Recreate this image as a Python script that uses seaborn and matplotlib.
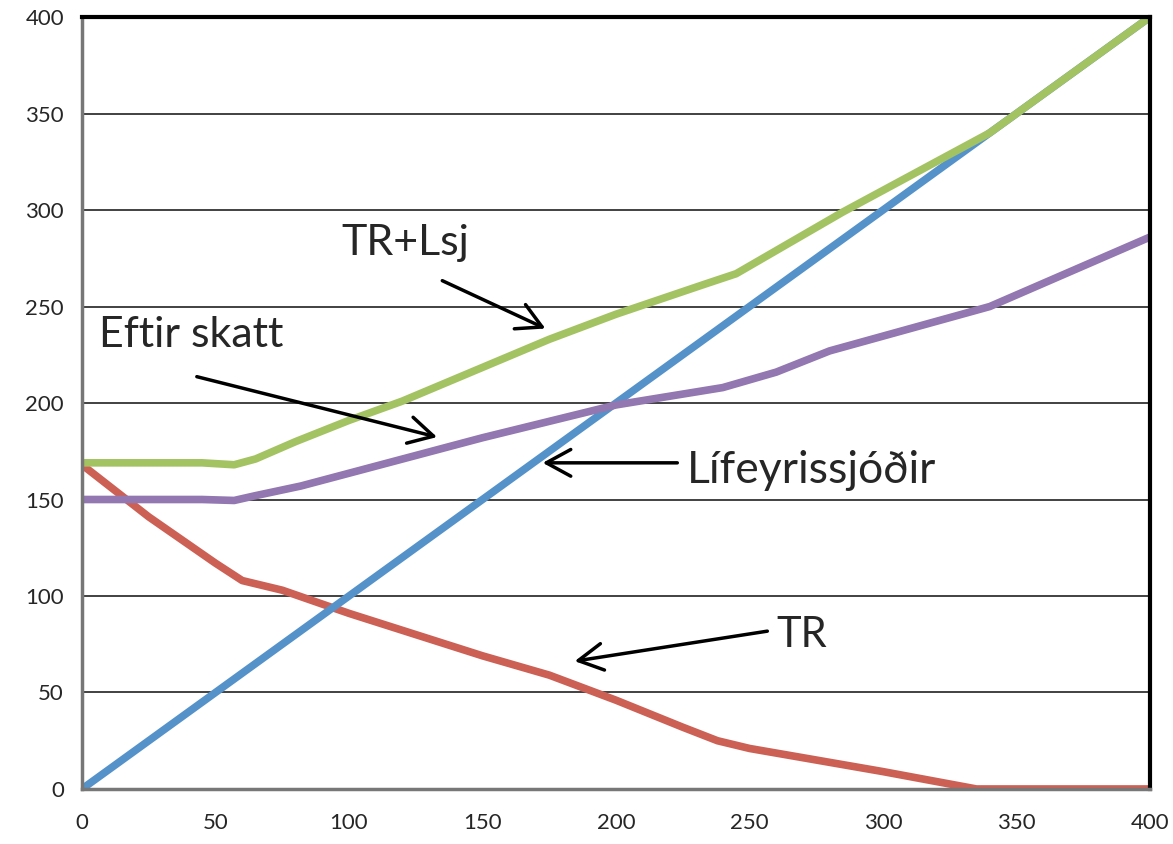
import numpy as np
import pandas as pd
import matplotlib
matplotlib.use('Agg')
import matplotlib.pyplot as plt
import seaborn as sns

# gögn lesin af myndinni
tr_x = [0, 25, 50, 60, 75, 100, 150, 175, 200, 225, 238, 250, 300, 335, 400]
tr_y = [168, 141, 117, 108, 103, 91, 69, 59, 46, 32, 25, 21, 9, 0, 0]

lsj_x = [0, 400]
lsj_y = [0, 400]

eftir_x = [0, 45, 57, 65, 82, 119, 150, 200, 240, 260, 280, 340, 400]
eftir_y = [150, 150, 149.5, 152, 157, 170.6, 182, 199, 208, 216, 227, 250, 286]

samtals_x = [0, 45, 57, 65, 80, 100, 120, 175, 200, 232, 245, 285, 340, 400]
samtals_y = [169, 169, 168, 171, 180, 191, 201, 233, 246, 261, 267, 299, 340, 400]

series = ['TR', 'Lífeyrissjóðir', 'Eftir skatt', 'TR+Lsj']
colors = {'TR': '#cc6055', 'Lífeyrissjóðir': '#5592c9',
          'Eftir skatt': '#9277b1', 'TR+Lsj': '#a3c362'}

frames = []
for name, xs, ys in [('TR', tr_x, tr_y), ('Lífeyrissjóðir', lsj_x, lsj_y),
                     ('Eftir skatt', eftir_x, eftir_y), ('TR+Lsj', samtals_x, samtals_y)]:
    frames.append(pd.DataFrame({'x': xs, 'y': ys, 'series': name}))
df = pd.concat(frames, ignore_index=True)

sns.set_style('white')
plt.rcParams['font.family'] = ['Lato', 'DejaVu Sans']

fig = plt.figure(figsize=(11.73, 8.44), dpi=100)
ax = fig.add_axes([0.0699, 0.0652, 0.9105, 0.9146])

ax.yaxis.grid(True, color='#333333', linewidth=1.3)
ax.set_axisbelow(True)

sns.lineplot(data=df, x='x', y='y', hue='series', hue_order=series,
             palette=colors, linewidth=5.5, legend=False, sort=False,
             estimator=None, ax=ax, solid_joinstyle='round', solid_capstyle='round')

ax.set_xlim(0, 400)
ax.set_ylim(0, 400)
ax.set_xticks(np.arange(0, 401, 50))
ax.set_yticks(np.arange(0, 401, 50))
ax.set_xlabel('')
ax.set_ylabel('')
ax.tick_params(axis='both', labelsize=16, length=5, width=1.2, color='#888888',
               direction='out', pad=8)
ax.tick_params(axis='x', pad=12)

for side in ['top', 'right']:
    ax.spines[side].set_color('black')
    ax.spines[side].set_linewidth(3)
for side in ['left', 'bottom']:
    ax.spines[side].set_color('#777777')
    ax.spines[side].set_linewidth(2.5)

arrow = dict(arrowstyle='->, head_length=0.55, head_width=0.3', lw=2.5,
             color='black', mutation_scale=32)

ax.text(121, 283, 'TR+Lsj', fontsize=31, ha='center', va='center')
ax.annotate('', xy=(174.5, 238), xytext=(134, 264), arrowprops=arrow)

ax.text(6.5, 235, 'Eftir skatt', fontsize=31, ha='left', va='center')
ax.annotate('', xy=(134, 182), xytext=(42, 214), arrowprops=arrow)

ax.text(226.5, 165, 'Lífeyrissjóðir', fontsize=32, ha='left', va='center')
ax.annotate('', xy=(171.5, 169), xytext=(224, 169), arrowprops=arrow)

ax.text(260, 80, 'TR', fontsize=30, ha='left', va='center')
ax.annotate('', xy=(183.5, 66), xytext=(257.7, 82), arrowprops=arrow)

fig.savefig('out.png', dpi=100)
